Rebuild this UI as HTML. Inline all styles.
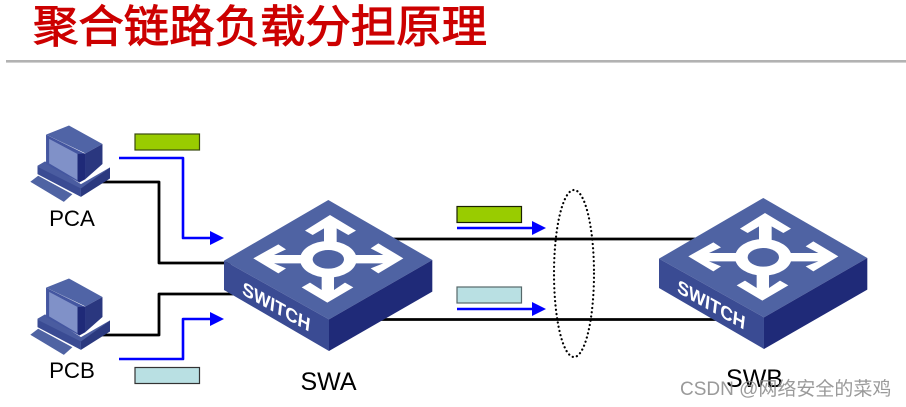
<!DOCTYPE html>
<html>
<head>
<meta charset="utf-8">
<style>
html,body{margin:0;padding:0;background:#fff}
body{width:906px;height:407px;overflow:hidden}
svg{display:block}
text{font-family:"Liberation Sans","Noto Sans CJK SC",sans-serif}
</style>
</head>
<body>
<svg width="906" height="407" viewBox="0 0 906 407" xmlns="http://www.w3.org/2000/svg">
<defs>
  <g id="sw">
    <g transform="translate(210,190) scale(0.3333)">
      <polygon points="42,212 355,30 667,210 357,388" fill="#4f63a3"/>
      <polygon points="42,212 357,388 357,483 42,300" fill="#3a4b93"/>
      <polygon points="357,388 667,210 667,305 357,483" fill="#1f2a78"/>
    </g>
    <g transform="translate(250,210) scale(0.3333)">
      <g fill="#fff">
        <polygon points="240,15 318,62 295,75 260,55 260,100 222,100 222,55 188,75 165,62"/>
        <polygon points="232,278 155,232 180,218 215,240 215,190 252,190 252,240 285,218 310,232"/>
        <polygon points="10,145 85,103 108,118 72,135 160,135 160,160 72,160 108,175 85,190"/>
        <polygon points="460,145 385,190 362,175 400,160 310,160 310,135 400,135 362,115 385,100"/>
        <ellipse cx="235" cy="148" rx="85" ry="55"/>
      </g>
      <ellipse cx="235" cy="148" rx="47" ry="28" fill="#4f63a3"/>
    </g>
  </g>
  <g id="pc">
    <g transform="translate(24.5,120.5) scale(0.342,0.335)">
      <polygon points="17,183 40,165 140,220 115,243" fill="#4f63a3"/>
      <polygon points="38,135 60,122 165,190 250,140 165,205 38,140" fill="#4a5ca0"/>
      <polygon points="38,138 165,203 165,228 38,160" fill="#3a4b93"/>
      <polygon points="165,203 250,140 250,173 165,228" fill="#2b397f"/>
      <polygon points="63,42 178,100 178,175 160,185 63,130" fill="#4456a0"/>
      <polygon points="63,42 130,15 228,70 178,98" fill="#5064a6"/>
      <polygon points="178,98 228,70 228,130 178,175" fill="#2a377f"/>
      <polygon points="155,100 178,98 178,175 160,185 155,178" fill="#1f2a78"/>
      <polygon points="72,55 155,100 155,178 72,128" fill="#8091c8"/>
    </g>
  </g>
</defs>

<text x="33" y="42" font-size="44.5" font-weight="400" fill="#cc0000" stroke="#cc0000" stroke-width="1" textLength="454" lengthAdjust="spacingAndGlyphs">聚合链路负载分担原理</text>
<rect x="6" y="60" width="900" height="2.6" fill="#b2b2b2"/>

<!-- black links -->
<g fill="none" stroke="#000" stroke-width="2.8" stroke-linejoin="round">
  <polyline points="100,182 159,182 159,263 235,263"/>
  <polyline points="100,335 159,335 159,294 235,294"/>
  <line x1="390" y1="239" x2="705" y2="239"/>
  <line x1="375" y1="319.5" x2="720" y2="319.5"/>
</g>

<use href="#pc"/>
<use href="#pc" transform="translate(0,153)"/>
<use href="#sw"/>
<use href="#sw" transform="translate(435,-2)"/>

<g font-size="18.5" font-weight="700" fill="#fff">
  <text transform="matrix(.93,.52,-.12,1,241.7,294)">SWITCH</text>
  <text transform="matrix(.93,.52,-.12,1,676.7,292)">SWITCH</text>
</g>

<!-- blue arrows -->
<g fill="none" stroke="#0000ff" stroke-width="2.6" stroke-linejoin="round">
  <polyline points="119,158 183,158 183,238 211,238"/>
  <polyline points="119,359 183,359 183,319 211,319"/>
  <line x1="457" y1="228" x2="533" y2="228"/>
  <line x1="457" y1="309" x2="533" y2="309"/>
</g>
<g fill="#0000ff">
  <polygon points="210,231 224,238 210,245"/>
  <polygon points="210,312 224,319 210,326"/>
  <polygon points="532,221 546,228 532,235"/>
  <polygon points="532,302 546,309 532,316"/>
</g>

<!-- packets -->
<g stroke-width="1.2">
  <rect x="135" y="134" width="64.5" height="16" fill="#99cc00" stroke="#3a4a10"/>
  <rect x="135" y="367.5" width="64.5" height="16" fill="#b9e0e3" stroke="#333"/>
  <rect x="457" y="206.5" width="64.5" height="16" fill="#99cc00" stroke="#1a2200"/>
  <rect x="457" y="287" width="64.5" height="16" fill="#b9e0e3" stroke="#56686a"/>
</g>

<ellipse cx="574" cy="273.5" rx="20" ry="83.5" fill="none" stroke="#000" stroke-width="2.2" stroke-dasharray="0.1 4.2" stroke-linecap="round"/>

<g fill="#000" text-anchor="middle">
  <text x="72" y="226" font-size="22.3">PCA</text>
  <text x="72" y="378" font-size="22.3">PCB</text>
  <text x="328.5" y="390" font-size="25">SWA</text>
  <text x="754.5" y="387" font-size="25">SWB</text>
</g>
<text x="680" y="395" font-size="19" fill="#8f8f8f" fill-opacity="0.9">CSDN @网络安全的菜鸡</text>
</svg>
</body>
</html>
